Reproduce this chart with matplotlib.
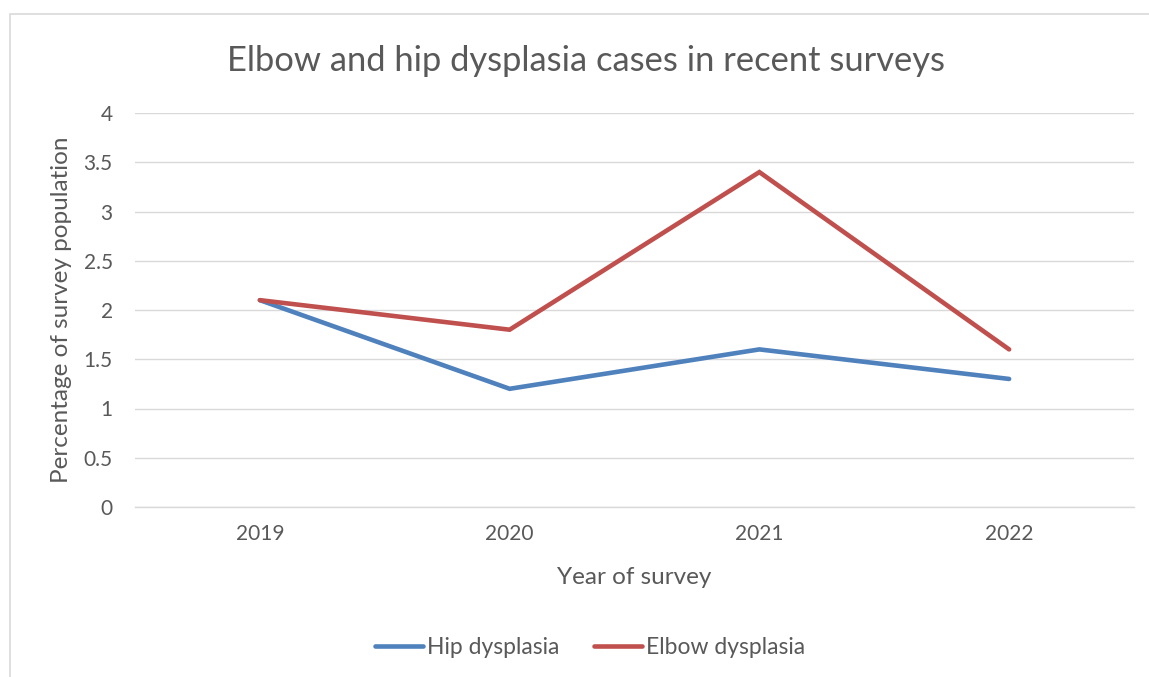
import matplotlib
matplotlib.use("Agg")
import matplotlib.pyplot as plt
from matplotlib.patches import Rectangle
from matplotlib.lines import Line2D

years = ["2019", "2020", "2021", "2022"]
hip_dysplasia = [2.1, 1.2, 1.6, 1.3]
elbow_dysplasia = [2.1, 1.8, 3.4, 1.6]
y_ticks = [0, 0.5, 1, 1.5, 2, 2.5, 3, 3.5, 4]
y_tick_labels = ["0", "0.5", "1", "1.5", "2", "2.5", "3", "3.5", "4"]

TEXT = "#595959"
GRID = "#D9D9D9"
BLUE = "#4F81BD"
RED = "#C0504D"

plt.rcParams["font.family"] = ["Lato", "DejaVu Sans"]

W, H = 1149, 677
fig = plt.figure(figsize=(W / 100, H / 100), dpi=100)

# chart frame (top and left edges visible)
fig.patches.append(Rectangle((9.5 / W, -0.2), 1.2, 1.2 - 14 / H,
                             transform=fig.transFigure, fill=False,
                             edgecolor="#D9D9D9", linewidth=1.2))

ax_left, ax_right, ax_top, ax_bottom = 135, 1134, 113, 507
ax = fig.add_axes([ax_left / W, 1 - ax_bottom / H,
                   (ax_right - ax_left) / W, (ax_bottom - ax_top) / H])
x = range(len(years))
LW = 3.3
ax.plot(x, hip_dysplasia, color=BLUE, linewidth=LW, solid_capstyle="round",
        solid_joinstyle="miter", zorder=3)
ax.plot(x, elbow_dysplasia, color=RED, linewidth=LW, solid_capstyle="round",
        solid_joinstyle="miter", zorder=3)

ax.set_xlim(-0.5, len(years) - 0.5)
ax.set_ylim(0, 4)
ax.set_yticks(y_ticks)
ax.set_yticklabels(y_tick_labels)
ax.set_xticks(list(x))
ax.set_xticklabels(years)
ax.yaxis.grid(True, color=GRID, linewidth=1.0)
ax.set_axisbelow(True)
for s in ["top", "right", "left"]:
    ax.spines[s].set_visible(False)
ax.spines["bottom"].set_color(GRID)
ax.spines["bottom"].set_linewidth(1.0)
ax.tick_params(axis="both", length=0, labelsize=15, colors=TEXT)
ax.tick_params(axis="y", pad=16)
ax.tick_params(axis="x", pad=12)

ax.set_ylabel("Percentage of survey population", fontsize=17.5, color=TEXT)
ax.yaxis.set_label_coords(-(ax_left - 62) / (ax_right - ax_left), 0.5)
ax.yaxis.label.set_va("center")
ax.set_xlabel("Year of survey", fontsize=17.5, color=TEXT)
ax.xaxis.set_label_coords(0.5, -(577 - ax_bottom) / (ax_bottom - ax_top))
ax.xaxis.label.set_va("center")

fig.text(586 / W, 1 - 61 / H, "Elbow and hip dysplasia cases in recent surveys",
         fontsize=24.8, color=TEXT, ha="center", va="center")

handles = [Line2D([], [], color=BLUE, linewidth=LW, solid_capstyle="round"),
           Line2D([], [], color=RED, linewidth=LW, solid_capstyle="round")]
fig.legend(handles, ["Hip dysplasia", "Elbow dysplasia"], loc="center",
           bbox_to_anchor=(590 / W, 1 - 648 / H), ncol=2, frameon=False,
           fontsize=16.5, labelcolor=TEXT, handlelength=2.1, handletextpad=0.17,
           columnspacing=1.5)

fig.savefig("out.png", dpi=100, facecolor="white")
